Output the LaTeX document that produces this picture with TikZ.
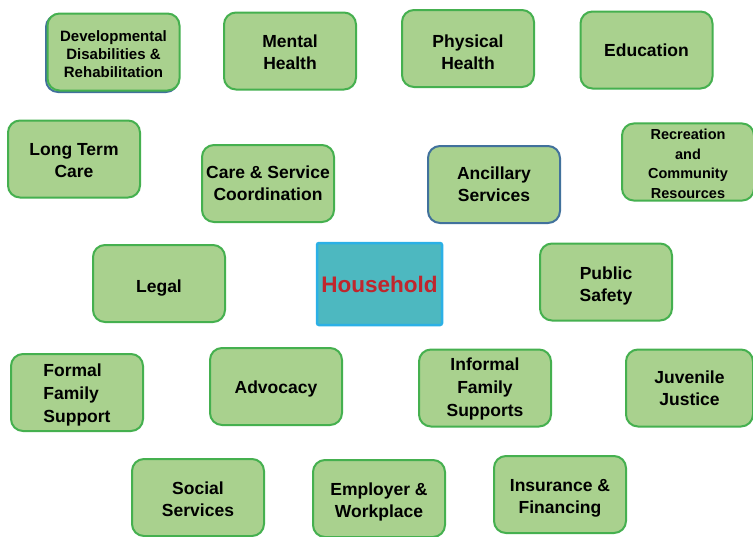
\documentclass[tikz,border=0pt]{standalone}
\usepackage{fontspec}
\setmainfont{Liberation Sans}
\usepackage{tikz}
\definecolor{boxfill}{HTML}{A9D18E}
\definecolor{boxline}{HTML}{45B04F}
\definecolor{slate}{HTML}{41719C}
\definecolor{hhfill}{HTML}{4DB8C0}
\definecolor{hhline}{HTML}{2BB0E6}
\definecolor{hhtext}{HTML}{C0262D}
% a strut taller than the text pushes the text a little down in its box
\newcommand{\topgap}[1]{\rule{0pt}{#1}}
\tikzset{
  svc/.style = {draw = boxline, fill = boxfill, line width = 2pt, rounded corners = 12pt,
    minimum width = 132pt, minimum height = 77pt, inner sep = 2pt, align = center,
    font = \bfseries\fontsize{17.5}{22}\selectfont},
  gap/.style = {execute at begin node = {\topgap{#1}}},
  small/.style = {font = \bfseries\fontsize{15}{18}\selectfont},
  tiny/.style = {font = \bfseries\fontsize{14.5}{19.5}\selectfont},
  tall/.style = {font = \bfseries\fontsize{17.5}{23}\selectfont},
  slateedge/.style = {draw = slate},
  hh/.style = {draw = hhline, fill = hhfill, line width = 2.5pt, rounded corners = 2pt,
    minimum width = 125pt, minimum height = 82pt, text = hhtext,
    font = \bfseries\fontsize{22.5}{25}\selectfont}
}

\begin{document}
\begin{tikzpicture}[x = 1pt, y = -1pt]
  \useasboundingbox (0, 0) rectangle (753, 536);
  \fill [white] (0, 0) rectangle (753, 536);
  % top row
  \node [svc, small, gap = 51pt, preaction = {draw = slate, line width = 2pt, rounded corners = 12pt,
    transform canvas = {shift = {(-1.5pt, -1.5pt)}}}] (devel) at (113.5, 52)
    {Developmental\\Disabilities \&\\Rehabilitation};
  \node [svc, gap = 38pt] (mental) at (290, 51) {Mental\\Health};
  \node [svc, gap = 42pt] (physical) at (468, 48.5) {Physical\\Health};
  \node [svc] (educ) at (646.5, 50) {Education};
  % second row
  \node [svc, gap = 38pt] (longterm) at (74, 159) {Long Term\\Care};
  \node [svc] (coord) at (268, 183.5) {Care \& Service\\Coordination};
  \node [svc, slateedge] (ancillary) at (494, 184.5) {Ancillary\\Services};
  \node [svc, tiny, gap = 73pt] (recreation) at (688, 162) {Recreation\\and\\Community\\Resources};
  % middle
  \node [hh] (house) at (379.5, 284) {Household};
  \node [svc, gap = 21pt] (legal) at (159, 283.5) {Legal};
  \node [svc, gap = 43pt] (safety) at (606, 282) {Public\\Safety};
  % fourth row
  \node [svc, tall, gap = 63pt, align = left] (formal) at (77, 392.5) {Formal\\Family\\Support};
  \node [svc, gap = 18pt] (advocacy) at (276, 386.5) {Advocacy};
  \node [svc, tall, gap = 61pt] (informal) at (485, 388) {Informal\\Family\\Supports};
  \node [svc, minimum width = 127pt] (juvenile) at (689.5, 388) {Juvenile\\Justice};
  % bottom row
  \node [svc, gap = 38pt] (social) at (198, 497.5) {Social\\Services};
  \node [svc, gap = 41pt] (employer) at (379, 498.5) {Employer \&\\Workplace};
  \node [svc, gap = 42pt] (insurance) at (560, 494.5) {Insurance \&\\Financing};
\end{tikzpicture}
\end{document}
